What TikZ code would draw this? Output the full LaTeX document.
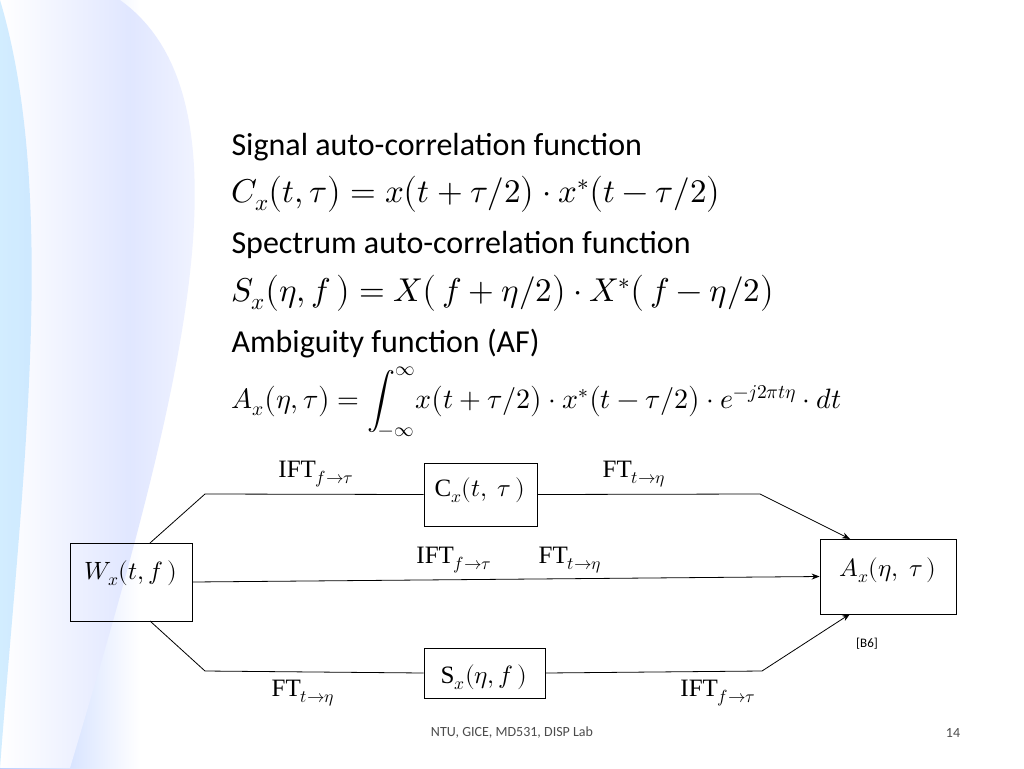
\documentclass[tikz,border=0pt]{standalone}
\usepackage{fontspec}
\usepackage{unicode-math}
\setmainfont{Carlito}
\newfontfamily\tms{Liberation Serif}
\usetikzlibrary{arrows.meta}
\begin{document}
\begin{tikzpicture}[x=1pt,y=-1pt,
  box/.style={draw,thick,minimum width=0pt,inner sep=0pt},
  ln/.style={line width=0.8pt},
  arr/.style={line width=0.8pt,-{Stealth[length=8pt,width=6pt]}},
  txt/.style={anchor=west,font=\fontsize{32}{34}\selectfont},
  eq/.style={anchor=west,font=\fontsize{33}{35}\selectfont},
  lab/.style={font=\fontsize{25}{27}\selectfont\tms}]
\useasboundingbox (0,0) rectangle (1024,768);
\fill[white] (0,0) rectangle (1024,768);
% background
\shade[left color=cyan!30!blue!30, right color=white] (0,0) rectangle (140,768);
\shade[left color=white, right color=white, middle color=cyan!20!blue!12] (120,0) .. controls (260,100) and (180,400) .. (70,768) -- (0,768) -- (0,0) -- cycle;
\fill[blue!40!cyan!50,opacity=0.35] (0,0) .. controls (60,200) and (20,500) .. (0,768) -- cycle;
% text
\node[txt] (t1) at (228,147) {Signal auto-correlation function};
\node[eq] (e1) at (228,194) {$C_x\big(t,\tau\big)=x\big(t+\tau/2\big)\cdot x^{*}\big(t-\tau/2\big)$};
\node[txt] (t2) at (228,245) {Spectrum auto-correlation function};
\node[eq] (e2) at (228,293) {$S_x\big(\eta,f\,\big)=X\big(\,f+\eta/2\big)\cdot X^{*}\big(\,f-\eta/2\big)$};
\node[txt] (t3) at (228,344) {Ambiguity function (AF)};
\node[eq,font=\fontsize{28}{30}\selectfont] (e3) at (228,402) {$\displaystyle A_x\big(\eta,\tau\big)=\int_{-\infty}^{\infty}\! x\big(t+\tau/2\big)\cdot x^{*}\big(t-\tau/2\big)\cdot e^{-j2\pi t\eta}\cdot dt$};
% boxes
\node[box,minimum width=122pt,minimum height=78pt] (W) at (131,582) {};
\node[lab] at (131,573) {$W_x(t,f\,)$};
\node[box,minimum width=113pt,minimum height=63pt] (C) at (480.5,494.5) {};
\node[lab] at (480,490) {C$_x(t,\ \tau\,)$};
\node[box,minimum width=136pt,minimum height=75pt] (A) at (888,576.5) {};
\node[lab] at (888,570) {$A_x(\eta,\ \tau\,)$};
\node[box,minimum width=121pt,minimum height=50pt] (S) at (484.5,673) {};
\node[lab] at (484,677) {S$_x(\eta, f\,)$};
% connectors
\coordinate (w1) at (150,543); \coordinate (w2) at (150,621);
\coordinate (a1) at (850,539); \coordinate (a2) at (850,614);
\draw[ln] (w1) -- (205,494) -- (C.west);
\draw[arr] (C.east) -- (760,494) -- (a1);
\draw[arr] (W.east) -- (A.west);
\draw[ln] (w2) -- (205,671) -- (S.west);
\draw[arr] (S.east) -- (762,671) -- (a2);
% labels
\node[lab] (l1) at (316,474) {IFT$_{f\to\tau}$};
\node[lab] (l2) at (634,474) {FT$_{t\to\eta}$};
\node[lab] (l3) at (454,560) {IFT$_{f\to\tau}$};
\node[lab] (l4) at (570,560) {FT$_{t\to\eta}$};
\node[lab] (l5) at (303,693) {FT$_{t\to\eta}$};
\node[lab] (l6) at (718,693) {IFT$_{f\to\tau}$};
\node[font=\fontsize{13}{14}\selectfont] (b6) at (867,644) {[B6]};
\node[font=\fontsize{14}{16}\selectfont,text=black!70] (ft) at (512,733) {NTU, GICE, MD531, DISP Lab};
\node[font=\fontsize{14}{16}\selectfont,text=black!70] (pn) at (953,733) {14};
\end{tikzpicture}
\end{document}
